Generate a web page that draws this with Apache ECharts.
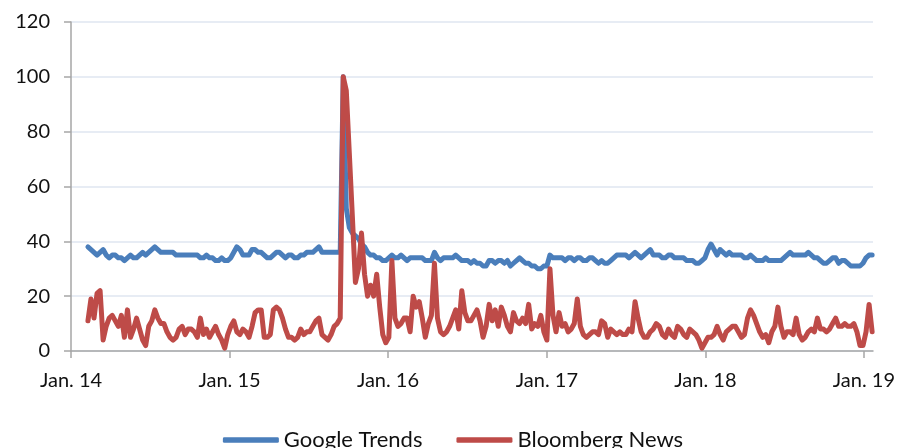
<!DOCTYPE html>
<html>
<head>
<meta charset="utf-8">
<title>Google Trends vs Bloomberg News</title>
<script src="https://cdn.jsdelivr.net/npm/echarts@6/dist/echarts.min.js"></script>
<style>
  html, body { margin: 0; padding: 0; background: #fff; }
  #chart { width: 906px; height: 448px; }
</style>
</head>
<body>
<div id="chart"></div>
<script>
// Weekly observations, first week starting 2014-02-09
const firstWeek = '2014-02-09';
const seriesNames = ['Google Trends', 'Bloomberg News'];
const yearTicks = [2014, 2015, 2016, 2017, 2018, 2019];
const axisEnd = '2019-01-22';
const yTicks = { min: 0, max: 120, step: 20 };

const googleTrends = [
  38, 37, 36, 35, 36, 37, 35, 34, 35, 35, 34, 34, 33, 34, 35, 34, 34, 35, 36, 35,
  36, 37, 38, 37, 36, 36, 36, 36, 36, 35, 35, 35, 35, 35, 35, 35, 35, 34, 34, 35,
  34, 34, 33, 33, 34, 33, 33, 34, 36, 38, 37, 35, 35, 35, 37, 37, 36, 36, 35, 34,
  34, 35, 36, 36, 35, 34, 35, 35, 34, 34, 35, 35, 36, 36, 36, 37, 38, 36, 36, 36,
  36, 36, 36, 36, 100, 52, 45, 43, 42, 41, 39, 38, 36, 35, 35, 34, 34, 33, 33, 34,
  35, 34, 34, 35, 34, 33, 34, 34, 34, 34, 34, 33, 33, 33, 36, 34, 33, 34, 34, 34,
  34, 35, 34, 33, 33, 33, 32, 33, 32, 32, 31, 31, 33, 33, 32, 33, 33, 32, 33, 31,
  32, 33, 34, 33, 32, 32, 31, 31, 30, 30, 31, 31, 35, 34, 34, 34, 34, 33, 34, 34,
  33, 34, 34, 33, 33, 34, 34, 33, 32, 33, 32, 32, 33, 34, 35, 35, 35, 35, 34, 35,
  36, 35, 34, 35, 36, 37, 35, 35, 35, 34, 34, 35, 35, 34, 34, 34, 34, 33, 33, 33,
  32, 32, 33, 34, 37, 39, 37, 35, 37, 36, 35, 36, 35, 35, 35, 35, 34, 34, 35, 34,
  33, 33, 33, 34, 33, 33, 33, 33, 33, 34, 35, 36, 35, 35, 35, 35, 35, 36, 35, 34,
  34, 33, 32, 32, 33, 34, 34, 32, 33, 33, 32, 31, 31, 31, 31, 32, 34, 35, 35
];

const bloombergNews = [
  11, 19, 12, 21, 22, 4, 9, 12, 13, 11, 9, 13, 5, 15, 5, 8, 12, 8, 4, 2,
  9, 11, 15, 12, 10, 10, 7, 5, 4, 5, 8, 9, 6, 8, 8, 7, 5, 12, 6, 8,
  5, 7, 9, 6, 4, 1, 6, 9, 11, 7, 6, 8, 7, 5, 9, 14, 15, 15, 5, 5,
  6, 15, 16, 15, 12, 8, 5, 5, 4, 5, 8, 6, 7, 7, 9, 11, 12, 6, 5, 4,
  6, 9, 10, 12, 100, 95, 72, 49, 25, 30, 43, 28, 20, 24, 20, 28, 16, 6, 3, 5,
  33, 12, 9, 10, 12, 12, 7, 20, 16, 18, 12, 5, 10, 13, 32, 12, 7, 6, 7, 9,
  12, 15, 8, 22, 14, 11, 11, 13, 15, 11, 5, 9, 17, 11, 15, 9, 16, 13, 9, 7,
  14, 11, 10, 12, 10, 17, 8, 10, 9, 13, 7, 4, 30, 13, 7, 14, 9, 10, 7, 8,
  10, 19, 9, 6, 5, 6, 7, 7, 6, 11, 10, 5, 8, 7, 6, 7, 6, 6, 8, 7,
  18, 12, 7, 5, 5, 7, 8, 10, 9, 6, 5, 8, 6, 5, 9, 8, 6, 5, 8, 7,
  6, 4, 1, 3, 5, 5, 6, 9, 6, 4, 7, 8, 9, 9, 7, 5, 6, 12, 15, 13,
  10, 7, 5, 6, 3, 7, 9, 16, 9, 5, 7, 7, 6, 12, 6, 4, 5, 7, 8, 7,
  12, 8, 8, 7, 8, 10, 12, 9, 9, 10, 9, 9, 10, 7, 2, 2, 7, 17, 7
];

const DAY = 24 * 3600 * 1000;
const t0 = Date.parse(firstWeek + 'T00:00:00Z');
const weekly = vals => vals.map((v, i) => [t0 + i * 7 * DAY, v]);
const yearStart = y => Date.UTC(y, 0, 1);
const tickValues = yearTicks.map(yearStart);

const FONT = 'Lato';
const chart = echarts.init(document.getElementById('chart'), null, { renderer: 'canvas' });

chart.setOption({
  animation: false,
  backgroundColor: '#ffffff',
  color: ['#4a7ebb', '#be4b48'],
  grid: { left: 71, right: 33, top: 22, bottom: 97, containLabel: false },
  legend: {
    data: seriesNames,
    left: 'center',
    top: 424,
    icon: 'roundRect',
    itemWidth: 56,
    itemHeight: 5.5,
    itemGap: 34,
    textStyle: { fontFamily: FONT, fontSize: 22, color: '#111' }
  },
  xAxis: {
    type: 'value',
    min: yearStart(2014),
    max: Date.parse(axisEnd + 'T00:00:00Z'),
    splitLine: { show: false },
    axisLine: { show: true, lineStyle: { color: '#a6a6a6', width: 1.5 } },
    axisTick: { show: true, length: 7, customValues: tickValues, lineStyle: { color: '#a6a6a6', width: 1.5 } },
    axisLabel: {
      customValues: tickValues,
      margin: 20,
      fontFamily: FONT,
      fontSize: 20,
      color: '#111',
      formatter: v => 'Jan. ' + String(new Date(v).getUTCFullYear()).slice(2)
    }
  },
  yAxis: {
    type: 'value',
    min: yTicks.min,
    max: yTicks.max,
    interval: yTicks.step,
    axisLine: { show: true, lineStyle: { color: '#a6a6a6', width: 1.5 } },
    axisTick: { show: true, length: 7, lineStyle: { color: '#a6a6a6', width: 1.5 } },
    splitLine: { show: true, lineStyle: { color: '#dfe6f1', width: 1.5 } },
    axisLabel: { margin: 21, fontFamily: FONT, fontSize: 20, color: '#111' }
  },
  series: [
    {
      name: seriesNames[0],
      type: 'line',
      data: weekly(googleTrends),
      showSymbol: false,
      lineStyle: { width: 5, cap: 'round', join: 'round' }
    },
    {
      name: seriesNames[1],
      type: 'line',
      data: weekly(bloombergNews),
      showSymbol: false,
      lineStyle: { width: 5, cap: 'round', join: 'round' }
    }
  ]
});
</script>
</body>
</html>
